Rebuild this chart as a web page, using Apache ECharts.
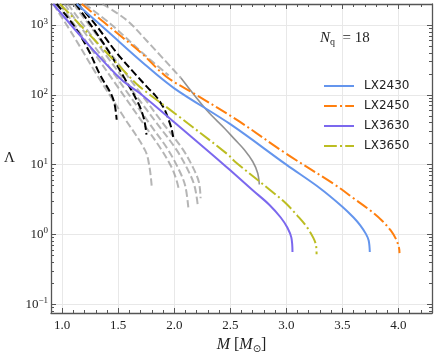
<!DOCTYPE html>
<html>
<head>
<meta charset="utf-8">
<script src="https://cdn.jsdelivr.net/npm/echarts@6/dist/echarts.min.js"></script>
<style>
html, body { margin: 0; padding: 0; background: #fff; }
#chart { width: 436px; height: 354px; }
</style>
</head>
<body>
<div id="chart"></div>
<script>
// axis ranges
const xMin = 0.9, xMax = 4.3;
const yMin = 0.075, yMax = 2000;
const xMajor = [1.0, 1.5, 2.0, 2.5, 3.0, 3.5, 4.0];
const yMajor = [-1, 0, 1, 2, 3];

// coloured models: mass M and tidal deformability Lambda
const lx2430M = [1.13, 1.4, 1.74, 2.0, 2.5, 3.0, 3.3, 3.5, 3.6, 3.66, 3.71, 3.735, 3.745];
const lx2430L = [2000, 826, 270, 124, 38, 10, 4.6, 2.5, 1.75, 1.35, 1.02, 0.82, 0.56];
const lx2450M = [1.175, 1.5, 1.708, 1.93, 2.2, 2.58, 3.0, 3.43, 3.6, 3.75, 3.85, 3.93, 3.98, 4.005, 4.01];
const lx2450L = [2000, 743, 395, 182, 99, 41.6, 14.3, 5.2, 3.3, 2.2, 1.6, 1.15, 0.85, 0.65, 0.54];
const lx3630M = [0.92, 1.2, 1.53, 1.69, 2.0, 2.34, 2.5, 2.7, 2.85, 2.95, 3.01, 3.045, 3.055];
const lx3630L = [2000, 600, 164, 106, 40.5, 13.9, 8.3, 4.3, 2.65, 1.75, 1.25, 0.9, 0.56];
const lx3650M = [0.98, 1.3, 1.6, 1.69, 2.0, 2.48, 2.54, 2.89, 3.0, 3.1, 3.18, 3.24, 3.265, 3.27];
const lx3650L = [2000, 585, 182, 131, 55, 13.9, 11.1, 3.9, 2.75, 1.85, 1.3, 0.9, 0.7, 0.52];

// grey dashed comparison curves
const grayM = [
    [0.92, 1.1, 1.31, 1.55, 1.74, 1.78, 1.80],
    [0.98, 1.2, 1.5, 1.75, 1.885, 1.98, 2.02, 2.04],
    [1.02, 1.3, 1.6, 1.8, 1.944, 2.05, 2.1, 2.128],
    [1.05, 1.35, 1.65, 1.85, 2.019, 2.12, 2.18, 2.21],
    [1.1, 1.4, 1.7, 1.9, 2.078, 2.17, 2.22, 2.235],
    [1.2, 1.427, 1.737, 1.95],
    [1.36, 1.574, 1.752, 2.06]
];
const grayL = [
    [2000, 700, 193, 48, 16, 9, 4.6],
    [2000, 622, 127, 33.8, 16.4, 8.9, 6.0, 4.5],
    [2000, 465, 98, 34.7, 16.4, 7.9, 4.8, 2.2],
    [2000, 452, 102, 38, 16.4, 8.5, 5.0, 2.6],
    [2000, 457, 105, 39, 16.4, 8.9, 5.6, 3.3],
    [2000, 1050, 372, 190],
    [2000, 1180, 600, 174]
];
// black dashed curves
const blackM = [
    [0.95, 1.1, 1.234, 1.338, 1.44, 1.47, 1.486],
    [1.12, 1.367, 1.55, 1.68, 1.73, 1.752],
    [1.14, 1.3, 1.486, 1.65, 1.767, 1.826, 1.871, 1.915, 1.945, 1.975, 1.99]
];
const blackL = [
    [2000, 1000, 440, 193, 100, 70, 44],
    [2000, 550, 180, 75, 45, 27],
    [2000, 1000, 400, 200, 125, 100, 80, 61, 46, 33, 25]
];
// grey solid curve
const graySolidM = [2.06, 2.29, 2.45, 2.54, 2.625, 2.70, 2.744, 2.759];
const graySolidL = [174, 60, 33, 23, 16.4, 11.1, 7.6, 5.2];

const supLabel = { "-1": "−1", "0": "0", "1": "1", "2": "2", "3": "3" };

function pairs(ms, ls) {
    return ms.map((m, i) => [m, ls[i]]);
}

const xMinor = [];
for (let v = 10; v <= 43; v++) xMinor.push(v / 10);
const yMinor = [];
for (let e = -2; e <= 3; e++) {
    for (let k = 2; k <= 9; k++) yMinor.push(Math.log10(k) + e);
}

const frameColor = "#555";
const serif = "Liberation Serif";

function frameX(position, ticks, len, showLine) {
    return {
        type: "value", min: xMin, max: xMax, position: position,
        axisLine: { show: showLine, onZero: false, lineStyle: { color: frameColor, width: 1.3 } },
        axisTick: { show: true, inside: true, length: len, customValues: ticks,
                    lineStyle: { color: frameColor, width: 1 } },
        axisLabel: { show: false },
        splitLine: { show: false }
    };
}
function frameY(position, ticks, len, showLine) {
    return {
        type: "value", min: Math.log10(yMin), max: Math.log10(yMax), position: position,
        axisLine: { show: showLine, onZero: false, lineStyle: { color: frameColor, width: 1.3 } },
        axisTick: { show: true, inside: true, length: len, customValues: ticks,
                    lineStyle: { color: frameColor, width: 1 } },
        axisLabel: { show: false },
        splitLine: { show: false }
    };
}

const smoothing = 0.35;
let series = [];
grayM.forEach((ms, i) => {
    series.push({
        type: "line", data: pairs(ms, grayL[i]), symbol: "none", smooth: smoothing,
        silent: true, z: 2,
        lineStyle: { color: "rgba(150,150,150,0.7)", width: 2, type: [7.4, 3.2] }
    });
});
series.push({
    type: "line", data: pairs(graySolidM, graySolidL), symbol: "none", smooth: smoothing,
    silent: true, z: 3,
    lineStyle: { color: "rgba(110,110,110,0.75)", width: 1.6 }
});
blackM.forEach((ms, i) => {
    series.push({
        type: "line", data: pairs(ms, blackL[i]), symbol: "none", smooth: smoothing,
        silent: true, z: 4,
        lineStyle: { color: "#000", width: 2, type: [7.4, 3.2] }
    });
});
const models = [
    ["LX2430", lx2430M, lx2430L, "#6495ED", "solid"],
    ["LX2450", lx2450M, lx2450L, "#FF7F0E", [12.8, 3.2, 2, 3.2]],
    ["LX3630", lx3630M, lx3630L, "#7B68EE", "solid"],
    ["LX3650", lx3650M, lx3650L, "#BCBD22", [12.8, 3.2, 2, 3.2]]
];
models.forEach(m => {
    series.push({
        name: m[0], type: "line", data: pairs(m[1], m[2]), symbol: "none", smooth: smoothing,
        z: 5, color: m[3],
        lineStyle: { color: m[3], width: 2, type: m[4] }
    });
});

const chart = echarts.init(document.getElementById("chart"));
chart.setOption({
    animation: false,
    backgroundColor: "#fff",
    grid: { left: 51, right: 4, top: 4, bottom: 41, outerBoundsMode: "none" },
    legend: {
        data: models.map(m => m[0]),
        orient: "vertical", left: 323, top: 80,
        itemWidth: 30, itemHeight: 12, itemGap: 8, padding: 0,
        itemStyle: { opacity: 0 },
        textStyle: { fontFamily: "DejaVu Sans", fontSize: 12, color: "#222", padding: [0, 0, 0, 5] }
    },
    graphic: [{
        type: "text", left: 320, top: 31,
        style: {
            text: "{i|N}{s|q}{n|  = 18}",
            rich: {
                i: { fontFamily: serif, fontStyle: "italic", fontSize: 15, lineHeight: 18, fill: "#222" },
                s: { fontFamily: serif, fontSize: 10, lineHeight: 18, verticalAlign: "bottom", fill: "#222" },
                n: { fontFamily: serif, fontSize: 15, lineHeight: 18, fill: "#222" }
            }
        }
    }],
    xAxis: [
        {
            type: "value", min: xMin, max: xMax, position: "bottom",
            axisLine: { show: true, onZero: false, lineStyle: { color: frameColor, width: 1.3 } },
            axisTick: { show: true, inside: true, length: 5, customValues: xMajor,
                        lineStyle: { color: frameColor, width: 1 } },
            axisLabel: { customValues: xMajor, formatter: v => v.toFixed(1), margin: 6,
                         fontFamily: serif, fontSize: 13, color: "#222" },
            splitLine: { show: true, lineStyle: { color: "#e8e8e8", width: 1 } },
            name: "{i|M} [{i|M}{s|⊙}]", nameLocation: "middle", nameGap: 17,
            nameTextStyle: {
                rich: {
                    i: { fontFamily: serif, fontStyle: "italic", fontSize: 16, lineHeight: 20, color: "#222" },
                    s: { fontFamily: "DejaVu Sans", fontSize: 10, lineHeight: 20, verticalAlign: "bottom", color: "#222" }
                },
                fontFamily: serif, fontSize: 16, color: "#222"
            }
        },
        frameX("bottom", xMinor, 3, false),
        frameX("top", xMajor, 5, true),
        frameX("top", xMinor, 3, false)
    ],
    yAxis: [
        {
            type: "log", min: yMin, max: yMax, position: "left",
            axisLine: { show: false, onZero: false }, axisTick: { show: false },
            axisLabel: { show: false }, splitLine: { show: false }
        },
        {
            type: "value", min: Math.log10(yMin), max: Math.log10(yMax), position: "left",
            axisLine: { show: true, onZero: false, lineStyle: { color: frameColor, width: 1.3 } },
            axisTick: { show: true, inside: true, length: 5, customValues: yMajor,
                        lineStyle: { color: frameColor, width: 1 } },
            axisLabel: {
                customValues: yMajor, margin: 3,
                formatter: v => "{b|10}{s|" + supLabel[String(v)] + "}",
                rich: {
                    b: { fontFamily: serif, fontSize: 13, lineHeight: 16, color: "#222" },
                    s: { fontFamily: serif, fontSize: 9, lineHeight: 16, verticalAlign: "top", color: "#222" }
                }
            },
            splitLine: { show: true, lineStyle: { color: "#e8e8e8", width: 1 } },
            name: "Λ", nameLocation: "middle", nameGap: 36, nameRotate: 0,
            nameTextStyle: { fontFamily: serif, fontSize: 15, color: "#222" }
        },
        frameY("left", yMinor, 3, false),
        frameY("right", yMajor, 5, true),
        frameY("right", yMinor, 3, false)
    ],
    series: series
});
</script>
</body>
</html>
